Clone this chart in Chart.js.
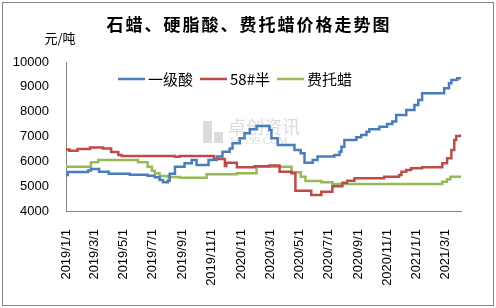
<!DOCTYPE html>
<html>
<head>
<meta charset="utf-8">
<script src="https://cdn.jsdelivr.net/npm/chart.js@4/dist/chart.umd.min.js"></script>
<style>
  html, body { margin: 0; padding: 0; background: #fff; }
  canvas { display: block; }
</style>
</head>
<body>
<canvas id="chart" width="496" height="308"></canvas>
<script>
// Series: change dates and the price held from that date (yuan/ton)
const acidDates = ['2019-01-01','2019-01-05','2019-02-16','2019-02-22','2019-03-11','2019-03-31','2019-05-14','2019-06-20','2019-07-05','2019-07-15','2019-07-22','2019-08-01','2019-08-05','2019-08-16','2019-09-05','2019-09-20','2019-09-30','2019-10-25','2019-11-11','2019-11-23','2019-12-08','2019-12-14','2019-12-29','2020-01-08','2020-01-19','2020-02-02','2020-02-29','2020-03-04','2020-03-17','2020-04-21','2020-05-04','2020-05-12','2020-05-29','2020-06-08','2020-07-13','2020-07-24','2020-07-28','2020-08-03','2020-08-28','2020-09-07','2020-09-18','2020-09-24','2020-10-15','2020-10-31','2020-11-11','2020-11-19','2020-12-10','2020-12-27','2021-01-04','2021-01-12','2021-02-27','2021-03-09','2021-03-14','2021-03-26','2021-04-03'];
const acidValues = [5450,5570,5630,5690,5580,5500,5460,5420,5360,5250,5155,5220,5500,5785,5920,6055,5850,6050,6190,6390,6520,6725,6930,7130,7290,7420,7260,6930,6660,6460,6325,5945,6055,6190,6255,6390,6590,6860,6970,7060,7195,7290,7395,7500,7600,7865,8070,8270,8470,8740,8940,9140,9275,9345,9300];

const waxDates = ['2019-01-01','2019-01-08','2019-01-25','2019-02-20','2019-03-19','2019-04-05','2019-04-20','2019-04-27','2019-08-16','2019-08-26','2019-11-05','2019-11-28','2019-12-01','2019-12-23','2020-01-29','2020-02-29','2020-03-21','2020-04-15','2020-04-23','2020-05-26','2020-06-16','2020-07-09','2020-07-30','2020-08-09','2020-08-24','2020-10-25','2020-11-25','2020-11-30','2020-12-10','2020-12-20','2021-01-12','2021-02-23','2021-03-05','2021-03-14','2021-03-20','2021-03-24','2021-04-03'];
const waxValues = [6480,6430,6500,6560,6520,6380,6260,6215,6180,6215,6090,5810,5945,5760,5800,5830,5580,5520,4820,4645,4780,5000,5140,5220,5315,5380,5450,5580,5650,5720,5760,5920,6120,6460,6860,7020,7090];

const ftDates = ['2019-01-01','2019-02-22','2019-03-09','2019-05-31','2019-06-20','2019-06-29','2019-07-05','2019-07-15','2019-08-01','2019-08-26','2019-10-21','2019-12-23','2020-02-02','2020-04-15','2020-05-04','2020-05-14','2020-06-16','2020-07-09','2021-02-23','2021-03-05','2021-03-12','2021-04-03'];
const ftValues = [5785,5960,6055,5960,5785,5625,5520,5410,5370,5340,5475,5520,5785,5560,5380,5210,5155,5090,5180,5275,5380,5380];

const seriesNames = ['一级酸', '58#半', '费托蜡'];
const tickDates = ['2019-01-01','2019-03-01','2019-05-01','2019-07-01','2019-09-01','2019-11-01','2020-01-01','2020-03-01','2020-05-01','2020-07-01','2020-09-01','2020-11-01','2021-01-01','2021-03-01'];
const startDate = '2019-01-01';
const endDate = '2021-04-03';
const yMin = 4000, yMax = 10000, yStep = 1000;

const titleText = '石蜡、硬脂酸、费托蜡价格走势图';
const unitText = '元/吨';

// helpers
function dayOf(s) {
  const [y, m, d] = s.split('-').map(Number);
  const [y0, m0, d0] = startDate.split('-').map(Number);
  return (Date.UTC(y, m - 1, d) - Date.UTC(y0, m0 - 1, d0)) / 86400000;
}
function fmtDay(v) {
  const [y0, m0, d0] = startDate.split('-').map(Number);
  const dt = new Date(Date.UTC(y0, m0 - 1, d0) + v * 86400000);
  return dt.getUTCFullYear() + '/' + (dt.getUTCMonth() + 1) + '/' + dt.getUTCDate();
}
const pts = (ds, vs) => ds.map((d, i) => ({ x: dayOf(d), y: vs[i] }));

const colors = ['#4A7EBB', '#BE4B48', '#98B954'];
const cjk = '"Noto Sans CJK SC", "Noto Sans", sans-serif';
const num = '"Liberation Sans", Arial, sans-serif';

const decor = {
  id: 'decor',
  beforeDatasetsDraw(chart) {
    // faint watermark
    const ctx = chart.ctx;
    ctx.save();
    ctx.fillStyle = '#dcdcdc';
    ctx.fillRect(203, 121, 9, 22);
    ctx.fillRect(214, 132, 9, 11);
    ctx.font = '18px ' + cjk;
    ctx.textBaseline = 'middle';
    ctx.textAlign = 'left';
    ctx.fillText('卓创资讯', 228, 127);
    ctx.font = '11px "Liberation Serif", serif';
    ctx.fillText('SC199.COM', 230, 141);
    ctx.restore();
  },
  afterDraw(chart) {
    const ctx = chart.ctx;
    ctx.save();
    // outer frame
    ctx.strokeStyle = '#868686';
    ctx.lineWidth = 1;
    ctx.strokeRect(2.5, 2.5, 491, 303);
    // title
    ctx.fillStyle = '#000';
    ctx.textAlign = 'center';
    ctx.textBaseline = 'middle';
    ctx.font = 'bold 17px ' + cjk;
    ctx.letterSpacing = '2px';
    ctx.fillText(titleText, 249, 25);
    ctx.letterSpacing = '0px';
    // unit
    ctx.font = '13px ' + cjk;
    ctx.fillText(unitText, 60, 38);
    // legend
    ctx.font = '15px ' + cjk;
    ctx.textAlign = 'left';
    let x = 118;
    const y = 79;
    chart.data.datasets.forEach(ds => {
      ctx.strokeStyle = ds.borderColor;
      ctx.lineWidth = 2.5;
      ctx.beginPath();
      ctx.moveTo(x, y);
      ctx.lineTo(x + 27, y);
      ctx.stroke();
      ctx.fillText(ds.label, x + 30, y);
      x += 30 + ctx.measureText(ds.label).width + 7;
    });
    ctx.restore();
  }
};

const datasets = [
  pts(acidDates, acidValues),
  pts(waxDates, waxValues),
  pts(ftDates, ftValues)
].map((d, i) => ({
  label: seriesNames[i],
  data: d,
  borderColor: colors[i],
  backgroundColor: colors[i],
  borderWidth: 2.5,
  pointRadius: 0,
  stepped: true,
  fill: false
}));

new Chart(document.getElementById('chart'), {
  type: 'line',
  data: { datasets },
  options: {
    responsive: false,
    animation: false,
    layout: { padding: { left: 0, right: 35, top: 62, bottom: 0 } },
    plugins: {
      legend: { display: false },
      title: { display: false },
      tooltip: { enabled: false }
    },
    scales: {
      x: {
        type: 'linear',
        min: dayOf(startDate),
        max: dayOf(endDate),
        grid: { display: false, drawTicks: false },
        border: { display: true, color: '#868686', width: 1 },
        afterBuildTicks(scale) {
          scale.ticks = tickDates.map(d => ({ value: dayOf(d) }));
        },
        afterFit(scale) { scale.height = 97; },
        ticks: {
          autoSkip: false,
          minRotation: 90,
          maxRotation: 90,
          padding: 18,
          color: '#000',
          font: { family: num, size: 13 },
          callback: v => fmtDay(v)
        }
      },
      y: {
        min: yMin,
        max: yMax,
        grid: { display: false, drawTicks: false },
        border: { display: true, color: '#868686', width: 1 },
        afterFit(scale) { scale.width = 66; },
        ticks: {
          stepSize: yStep,
          padding: 17,
          color: '#000',
          font: { family: num, size: 13 },
          callback: v => String(v)
        }
      }
    }
  },
  plugins: [decor]
});
</script>
</body>
</html>
